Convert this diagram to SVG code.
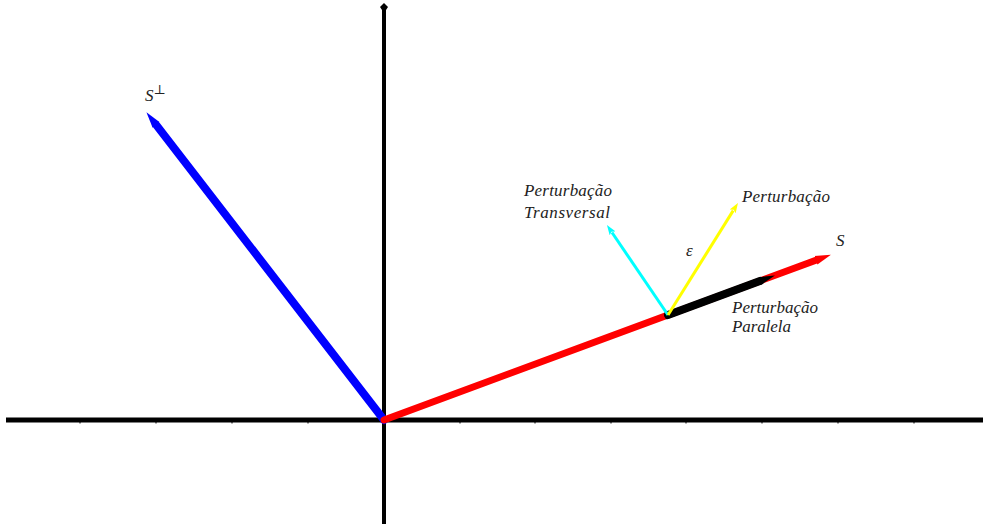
<svg xmlns="http://www.w3.org/2000/svg" width="983" height="529" viewBox="0 0 983 529">
<style>
.lbl{font-family:"Liberation Serif","DejaVu Serif",serif;font-style:italic;font-size:17px;fill:#222}
.axis{stroke:#000;fill:none}
.tick{stroke:#000;stroke-width:1}
</style>
<defs>
<marker id="hBlue" markerUnits="userSpaceOnUse" markerWidth="16" markerHeight="12" refX="0" refY="6" orient="auto" viewBox="0 0 16 12"><path d="M0,1.5 L16,6 L0,10.5 Z" fill="#0000ff"/></marker>
<marker id="hRed" markerUnits="userSpaceOnUse" markerWidth="16" markerHeight="12" refX="0" refY="6" orient="auto" viewBox="0 0 16 12"><path d="M0,1.5 L16,6 L0,10.5 Z" fill="#ff0000"/></marker>
<marker id="hBlack" markerUnits="userSpaceOnUse" markerWidth="16" markerHeight="12" refX="0" refY="6" orient="auto" viewBox="0 0 16 12"><path d="M0,2 L16,6 L0,10 Z" fill="#000"/></marker>
<marker id="hCyan" markerUnits="userSpaceOnUse" markerWidth="10" markerHeight="8" refX="1" refY="4" orient="auto" viewBox="0 0 10 8"><path d="M0,0.5 L10,4 L0,7.5 L2,4 Z" fill="#00ffff"/></marker>
<marker id="hYellow" markerUnits="userSpaceOnUse" markerWidth="10" markerHeight="8" refX="1" refY="4" orient="auto" viewBox="0 0 10 8"><path d="M0,0.5 L10,4 L0,7.5 L2,4 Z" fill="#ffff00"/></marker>
</defs>
<g id="axes">
<line class="axis" x1="6" y1="420" x2="983" y2="420" stroke-width="5"/>
<line class="axis" x1="384" y1="8" x2="384" y2="524" stroke-width="4"/>
<path d="M384,3 L388,7 L386,10 L382,10 L380,7 Z" fill="#000"/>
<g>
<line class="tick" x1="80" y1="420" x2="80" y2="423.5"/>
<line class="tick" x1="156" y1="420" x2="156" y2="423.5"/>
<line class="tick" x1="232" y1="420" x2="232" y2="423.5"/>
<line class="tick" x1="308" y1="420" x2="308" y2="423.5"/>
<line class="tick" x1="460" y1="420" x2="460" y2="423.5"/>
<line class="tick" x1="535" y1="420" x2="535" y2="423.5"/>
<line class="tick" x1="611" y1="420" x2="611" y2="423.5"/>
<line class="tick" x1="686" y1="420" x2="686" y2="423.5"/>
<line class="tick" x1="762" y1="420" x2="762" y2="423.5"/>
<line class="tick" x1="838" y1="420" x2="838" y2="423.5"/>
<line class="tick" x1="914" y1="420" x2="914" y2="423.5"/>
</g>
</g>
<g id="connectors">
<line id="vec-sperp" x1="384" y1="420" x2="156.2" y2="124.9" stroke="#0000ff" stroke-width="8" stroke-linecap="round" marker-end="url(#hBlue)"/>
<line id="vec-s" x1="384" y1="420" x2="815.9" y2="260.2" stroke="#ff0000" stroke-width="7" stroke-linecap="round" marker-end="url(#hRed)"/>
<line id="vec-par" x1="668" y1="315" x2="759.9" y2="281" stroke="#000" stroke-width="8" stroke-linecap="round" marker-end="url(#hBlack)"/>
<line id="vec-trans" x1="668" y1="315" x2="612" y2="232.5" stroke="#00ffff" stroke-width="3" marker-end="url(#hCyan)"/>
<line id="vec-pert" x1="668" y1="315" x2="733.2" y2="210.6" stroke="#ffff00" stroke-width="3" marker-end="url(#hYellow)"/>
</g>
<g id="label-sperp">
<text class="lbl" x="145" y="101">S<tspan font-style="normal" font-size="13" dy="-7">⊥</tspan></text>
</g>
<g id="label-s">
<text class="lbl" x="836" y="246">S</text>
</g>
<g id="label-eps">
<text class="lbl" x="686" y="256" font-size="15">ε</text>
</g>
<g id="label-pert">
<text class="lbl" x="742" y="202" textLength="88" lengthAdjust="spacing">Perturbação</text>
</g>
<g id="label-trans">
<text class="lbl" x="524" y="196" textLength="88" lengthAdjust="spacing">Perturbação</text>
<text class="lbl" x="524" y="218" textLength="86" lengthAdjust="spacing">Transversal</text>
</g>
<g id="label-par">
<text class="lbl" x="732" y="313" textLength="86" lengthAdjust="spacing">Perturbação</text>
<text class="lbl" x="732" y="332" textLength="59" lengthAdjust="spacing">Paralela</text>
</g>
</svg>
